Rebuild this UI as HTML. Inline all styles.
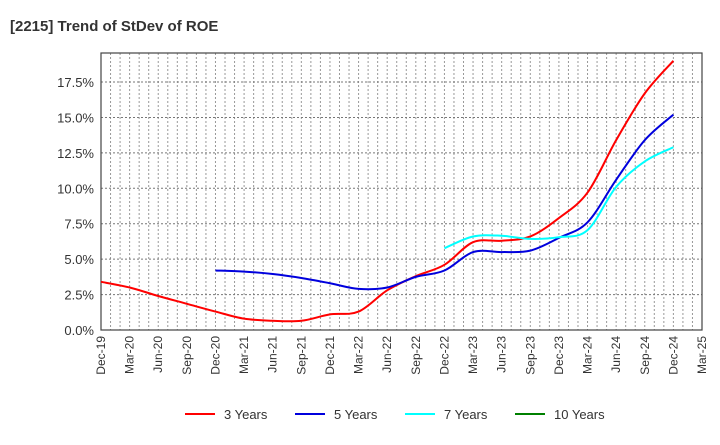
<!DOCTYPE html>
<html><head><meta charset="utf-8"><style>
body{margin:0;background:#fff;font-family:"Liberation Sans",sans-serif}
svg text{font-family:"Liberation Sans",sans-serif}
</style></head><body>
<svg width="720" height="440" xmlns="http://www.w3.org/2000/svg">
<text x="10" y="31" font-size="15" font-weight="bold" fill="#333">[2215]  Trend of StDev of ROE</text>
<g id="grid"></g><g id="axes"></g><g id="series"></g><g id="legend"></g>
</svg>
<script>
const xLabels=["Dec-19","Mar-20","Jun-20","Sep-20","Dec-20","Mar-21","Jun-21","Sep-21","Dec-21","Mar-22","Jun-22","Sep-22","Dec-22","Mar-23","Jun-23","Sep-23","Dec-23","Mar-24","Jun-24","Sep-24","Dec-24","Mar-25"];
const yTicks=[0,2.5,5,7.5,10,12.5,15,17.5];
const s3=[3.4,3.0,2.4,1.85,1.3,0.8,0.65,0.65,1.1,1.3,2.8,3.8,4.6,6.2,6.3,6.6,7.9,9.7,13.4,16.7,19.0];
const s5=[null,null,null,null,4.2,4.12,3.95,3.67,3.3,2.9,3.0,3.75,4.2,5.5,5.5,5.6,6.5,7.6,10.6,13.4,15.2];
const s7=[null,null,null,null,null,null,null,null,null,null,null,null,5.77,6.6,6.65,6.43,6.55,7.05,10.1,11.9,12.9];
const s10=[];
const L=101,R=702,T=53,B=330,yMax=19.55;
const NS="http://www.w3.org/2000/svg";
const xq=q=>L+(R-L)*q/21;
const y=v=>B-(B-T)*v/yMax;
function mk(t,a,p){const e=document.createElementNS(NS,t);for(const k in a)e.setAttribute(k,a[k]);p.appendChild(e);return e;}
const g=document.getElementById('grid'),ax=document.getElementById('axes'),sg=document.getElementById('series'),lg=document.getElementById('legend');
for(let m=1;m<63;m++){const x=L+(R-L)*m/63;const l=mk('line',{x1:x,x2:x,y1:T,y2:B,stroke:'#999','stroke-dasharray':'2,2','stroke-width':1},g);

}
yTicks.forEach(v=>{const l=mk('line',{x1:L,x2:R,y1:y(v),y2:y(v),stroke:'#777','stroke-dasharray':'2,2','stroke-width':1},g);


const t=mk('text',{x:L-7,y:y(v)+5,'text-anchor':'end','font-size':13,fill:'#333'},ax);t.textContent=v.toFixed(1)+'%';

});
const box=mk('rect',{x:L,y:T,width:R-L,height:B-T,fill:'none',stroke:'#444','stroke-width':1.2},ax);


xLabels.forEach((s,i)=>{const x=xq(i);const t=mk('text',{transform:`translate(${x+4},${B+6}) rotate(-90)`,'text-anchor':'end','font-size':12,fill:'#333'},ax);t.textContent=s;

});
function path(arr){const pts=[];arr.forEach((v,i)=>{if(v!=null)pts.push([xq(i),y(v)]);});if(pts.length<2)return'';
let d=`M${pts[0][0]},${pts[0][1]}`;for(let i=0;i<pts.length-1;i++){const p0=pts[Math.max(0,i-1)],p1=pts[i],p2=pts[i+1],p3=pts[Math.min(pts.length-1,i+2)];
const c1=[p1[0]+(p2[0]-p0[0])/6,p1[1]+(p2[1]-p0[1])/6],c2=[p2[0]-(p3[0]-p1[0])/6,p2[1]-(p3[1]-p1[1])/6];d+=` C${c1[0]},${c1[1]} ${c2[0]},${c2[1]} ${p2[0]},${p2[1]}`;}return d;}
const series=[[s3,'#ff0000','3 Years','line-3-years'],[s5,'#0000dd','5 Years','line-5-years'],[s7,'#00ffff','7 Years','line-7-years'],[s10,'#008000','10 Years','line-10-years']];
const lx=[185,295,405,515];
series.forEach((s,i)=>{const d=path(s[0]);if(d){const p=mk('path',{d:d,fill:'none',stroke:s[1],'stroke-width':2},sg);

}
const l=mk('line',{x1:lx[i],x2:lx[i]+30,y1:414,y2:414,stroke:s[1],'stroke-width':2},lg);


const t=mk('text',{x:lx[i]+39,y:419,'font-size':13,fill:'#333'},lg);t.textContent=s[2];

});
</script>
</body></html>
